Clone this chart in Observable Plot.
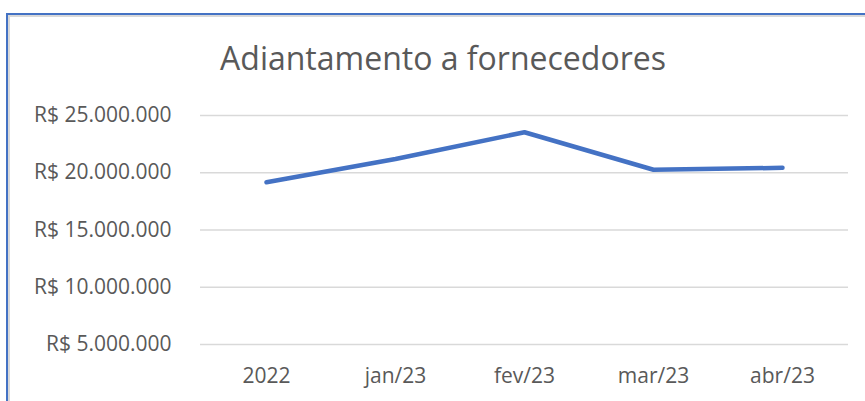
<!DOCTYPE html>
<html><head><meta charset="utf-8">
<script src="https://cdn.jsdelivr.net/npm/d3@7"></script>
<script src="https://cdn.jsdelivr.net/npm/@observablehq/plot@0.6"></script>
<style>
html,body{margin:0;padding:0;width:865px;height:401px;overflow:hidden;background:#fff;font-family:"Open Sans",sans-serif;}
#frame{position:absolute;left:6px;top:13px;width:1000px;height:500px;border-top:2px solid #4472C4;border-left:2px solid #4472C4;box-shadow:inset 2px 2px 0 #d9d9d9;}
#title{position:absolute;left:0;width:886px;top:42px;text-align:center;font-size:32px;line-height:32px;color:#595959;white-space:nowrap;}
#chart{position:absolute;left:0;top:90px;}
</style></head><body>
<div id="frame"></div>
<div id="title">Adiantamento a fornecedores</div>
<div id="chart"></div>
<script>
const categories = ["2022", "jan/23", "fev/23", "mar/23", "abr/23"];
const values = [19170000, 21200000, 23540000, 20260000, 20430000];
const yTicks = [5000000, 10000000, 15000000, 20000000, 25000000];

const data = categories.map((c, i) => ({mes: c, valor: values[i]}));
const fmt = v => "R$ " + d3.format(",")(v).replace(/,/g, ".");

const chart = Plot.plot({
  width: 865, height: 311,
  marginTop: 25, marginBottom: 57, marginLeft: 200, marginRight: 17,
  style: {fontFamily: '"Open Sans", sans-serif', fontSize: "21px", color: "#595959", background: "transparent", overflow: "visible"},
  x: {type: "point", domain: categories, padding: 0.5, label: null, tickSize: 0, tickPadding: 24},
  y: {domain: [5000000, 25000000], ticks: yTicks, tickFormat: fmt, label: null, tickSize: 0, tickPadding: 29},
  marks: [
    Plot.ruleY(yTicks, {stroke: "#d9d9d9", strokeWidth: 1.5}),
    Plot.line(data, {x: "mes", y: "valor", stroke: "#4472C4", strokeWidth: 4.5, strokeLinecap: "round", strokeLinejoin: "round"})
  ]
});
document.getElementById("chart").appendChild(chart);
</script>
</body></html>
